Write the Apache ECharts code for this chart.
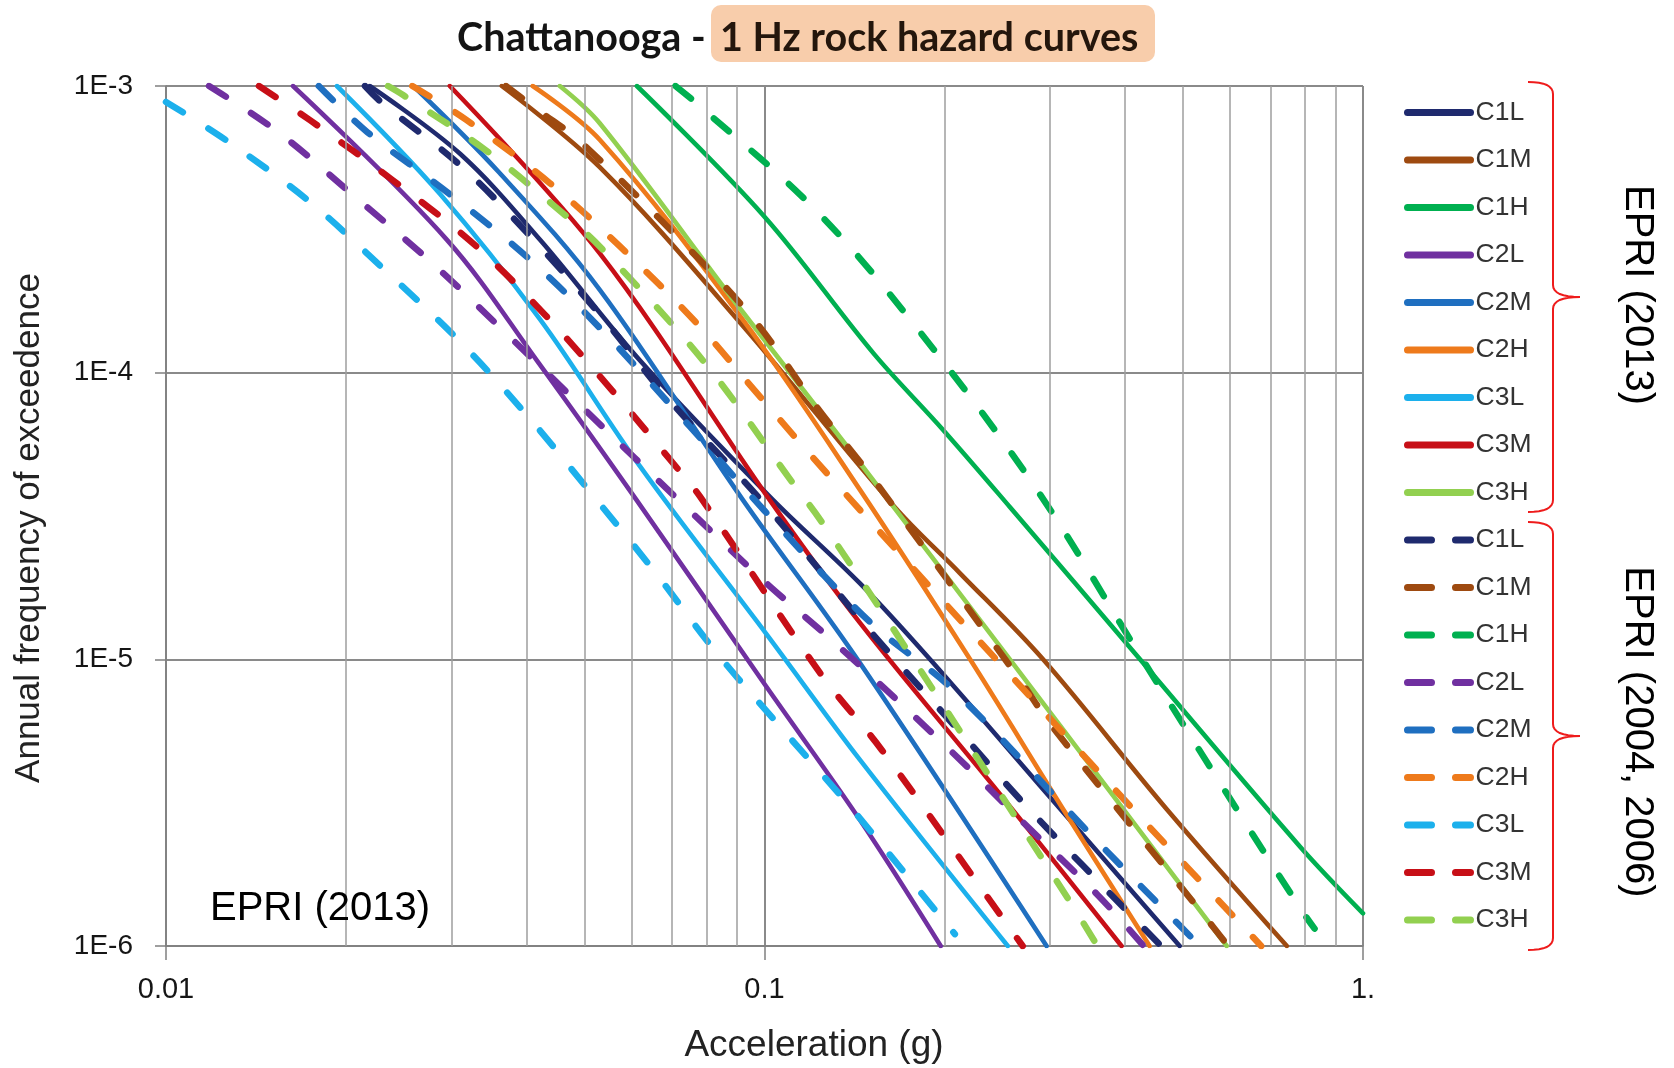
<!DOCTYPE html>
<html>
<head>
<meta charset="utf-8">
<script src="https://cdn.jsdelivr.net/npm/echarts@6/dist/echarts.min.js"></script>
<style>html,body{margin:0;padding:0;background:#fff}#chart{width:1674px;height:1068px}</style>
</head>
<body>
<div id="chart"></div>
<script>
// ---------- DATA ----------
const categories = ['C1L','C1M','C1H','C2L','C2M','C2H','C3L','C3M','C3H'];
const groupNames = ['EPRI (2013)', 'EPRI (2004, 2006)'];
const titleParts = ['Chattanooga - ', '1 Hz rock hazard curves'];
const axisTitles = ['Acceleration (g)', 'Annual frequency of exceedence'];

// EPRI (2013) – solid curves: [acceleration g, annual frequency of exceedance]
const epri2013_C1L = [[0.0219,1e-3],[0.031,5.8e-4],[0.0422,2.9e-4],[0.062,1.1e-4],[0.1033,3.6e-5],[0.1444,1.84e-5],[0.189,1e-5],[0.3,3.3e-6],[0.494,1e-6]];
const epri2013_C1M = [[0.0364,1e-3],[0.0531,5.2e-4],[0.0922,1.45e-4],[0.165,3.4e-5],[0.212,2e-5],[0.292,1e-5],[0.47,3e-6],[0.746,1e-6]];
const epri2013_C1H = [[0.0612,1e-3],[0.1,3.5e-4],[0.152,1.17e-4],[0.199,6.3e-5],[0.257,3.4e-5],[0.424,1e-5],[0.785,2.22e-6],[1.0,1.3e-6]];
const epri2013_C2L = [[0.0163,1e-3],[0.0295,2.9e-4],[0.0417,1.1e-4],[0.0611,3.6e-5],[0.1,8.2e-6],[0.1444,2.75e-6],[0.197,1e-6]];
const epri2013_C2M = [[0.0259,1e-3],[0.036,5.0e-4],[0.0531,1.94e-4],[0.092,3.6e-5],[0.1444,9.7e-6],[0.296,1e-6]];
const epri2013_C2H = [[0.041,1e-3],[0.0531,6.48e-4],[0.092,1.53e-4],[0.1444,3.9e-5],[0.2205,1e-5],[0.314,3.05e-6],[0.44,1e-6]];
const epri2013_C3L = [[0.0193,1e-3],[0.0287,4.2e-4],[0.0422,1.53e-4],[0.062,4.7e-5],[0.1009,1.22e-5],[0.1444,4.46e-6],[0.255,1e-6]];
const epri2013_C3M = [[0.0298,1e-3],[0.0531,2.6e-4],[0.102,3.6e-5],[0.1444,1.34e-5],[0.25,3.3e-6],[0.395,1e-6]];
const epri2013_C3H = [[0.0455,1e-3],[0.0531,7.4e-4],[0.0886,1.8e-4],[0.1444,4.84e-5],[0.257,1e-5],[0.592,1e-6]];

// EPRI (2004, 2006) – dashed curves
const epri2004_C1L = [[0.0215,1e-3],[0.023,8.7e-4],[0.0313,5.2e-4],[0.0413,2.88e-4],[0.0537,1.55e-4],[0.0687,8.2e-5],[0.101,3.4e-5],[0.148,1.3e-5],[0.218,5.24e-6],[0.281,2.9e-6],[0.46,1e-6]];
const epri2004_C1M = [[0.037,1e-3],[0.0418,8.25e-4],[0.0492,6.4e-4],[0.0751,2.68e-4],[0.097,1.49e-4],[0.1222,7.6e-5],[0.154,4.1e-5],[0.267,8.5e-6],[0.303,5.8e-6],[0.561,1.17e-6],[0.595,1e-6]];
const epri2004_C1H = [[0.071,1e-3],[0.078,8.5e-4],[0.121,3.74e-4],[0.177,1.49e-4],[0.283,4.0e-5],[0.428,1.0e-5],[0.647,2.54e-6],[0.80,1.28e-6],[0.83,1.15e-6]];
const epri2004_C2L = [[0.0118,1e-3],[0.0154,6.9e-4],[0.021,4.0e-4],[0.0281,2.37e-4],[0.0373,1.35e-4],[0.0492,7.7e-5],[0.075,3.3e-5],[0.0994,1.89e-5],[0.1337,1.1e-5],[0.204,4.83e-6],[0.27,2.71e-6],[0.36,1.51e-6],[0.43,1e-6]];
const epri2004_C2M = [[0.018,1e-3],[0.0217,6.9e-4],[0.0296,4.24e-4],[0.0403,2.51e-4],[0.0531,1.43e-4],[0.075,6.5e-5],[0.1,3.3e-5],[0.15,1.35e-5],[0.207,7.8e-6],[0.354,2.4e-6],[0.534,1e-6]];
const epri2004_C2H = [[0.0258,1e-3],[0.0318,7.6e-4],[0.0438,4.58e-4],[0.0574,2.75e-4],[0.077,1.49e-4],[0.0995,8.0e-5],[0.1286,4.34e-5],[0.247,9.7e-6],[0.419,2.9e-6],[0.623,1.2e-6],[0.676,1e-6]];
const epri2004_C3L = [[0.01,8.8e-4],[0.0127,6.4e-4],[0.0174,3.94e-4],[0.0232,2.28e-4],[0.0308,1.3e-4],[0.0401,7.1e-5],[0.0511,3.84e-5],[0.0652,2.05e-5],[0.0833,1.05e-5],[0.1074,5.67e-6],[0.1374,3.15e-6],[0.177,1.66e-6],[0.208,1.1e-6]];
const epri2004_C3M = [[0.0143,1e-3],[0.0174,7.6e-4],[0.0239,4.7e-4],[0.0328,2.79e-4],[0.043,1.59e-4],[0.0558,8.6e-5],[0.0703,4.84e-5],[0.078,3.7e-5],[0.1238,8.97e-6],[0.157,4.83e-6],[0.25,1.25e-6],[0.27,1e-6]];
const epri2004_C3H = [[0.0235,1e-3],[0.0249,9.3e-4],[0.0341,6.0e-4],[0.0464,3.55e-4],[0.0531,2.75e-4],[0.079,1.1e-4],[0.1117,4.1e-5],[0.124,3.06e-5],[0.173,1.08e-5],[0.328,1.37e-6],[0.36,1e-6]];

// Axis ticks
const xTickValues = [0.01, 0.1, 1];
const xTickLabels = ['0.01', '0.1', '1.'];
const yTickValues = [1e-6, 1e-5, 1e-4, 1e-3];
const yTickLabels = ['1E-6', '1E-5', '1E-4', '1E-3'];
const xMinorTicks = [0.02,0.03,0.04,0.05,0.06,0.07,0.08,0.09,0.2,0.3,0.4,0.5,0.6,0.7,0.8,0.9];
const yMinorTicks = [2e-6,3e-6,4e-6,5e-6,6e-6,7e-6,8e-6,9e-6,2e-5,3e-5,4e-5,5e-5,6e-5,7e-5,8e-5,9e-5,2e-4,3e-4,4e-4,5e-4,6e-4,7e-4,8e-4,9e-4];

// ---------- STYLE ----------
const colors = ['#1f2a6e','#9e4a10','#00b050','#7030a0','#1f6fc0','#ee7a1b','#1cb0ec','#c70f17','#92d050'];
const solidSets = [epri2013_C1L,epri2013_C1M,epri2013_C1H,epri2013_C2L,epri2013_C2M,epri2013_C2H,epri2013_C3L,epri2013_C3M,epri2013_C3H];
const dashSets  = [epri2004_C1L,epri2004_C1M,epri2004_C1H,epri2004_C2L,epri2004_C2M,epri2004_C2H,epri2004_C3L,epri2004_C3M,epri2004_C3H];

function nearestLabel(v, vals, labels){
  const lv = Math.log10(v);
  let best = 0, bd = Infinity;
  vals.forEach((t,i)=>{const d=Math.abs(Math.log10(t)-lv); if(d<bd){bd=d;best=i;}});
  return bd < 0.01 ? labels[best] : '';
}

const series = [];
series.push({
  type:'line', name:'__grid', data:[], z:1, silent:true, symbol:'none',
  markLine:{
    silent:true, symbol:['none','none'], label:{show:false}, animation:false,
    lineStyle:{color:'#9e9e9e', width:1.5, type:'solid'},
    emphasis:{disabled:true},
    data: xMinorTicks.map(v=>({xAxis:v})).concat(yMinorTicks.map(v=>({yAxis:v})))
  }
});
categories.forEach((c,i)=>{
  series.push({
    type:'line', name:c, data: solidSets[i], symbol:'none', smooth:0.35,
    clip:true, z:3, color: colors[i],
    lineStyle:{color:colors[i], width:4.6, cap:'round', join:'round'},
    emphasis:{disabled:true}
  });
});
categories.forEach((c,i)=>{
  series.push({
    type:'line', name:c + ' ' + groupNames[1], data: dashSets[i], symbol:'none', smooth:0.35,
    clip:true, z:4, color: colors[i],
    lineStyle:{color:colors[i], width:6.5, type:[20,30], cap:'round', join:'round'},
    emphasis:{disabled:true}
  });
});

const legendData = categories.map(c=>({name:c}))
  .concat(categories.map(c=>({name:c + ' ' + groupNames[1], lineStyle:{type:[24,24]}})));

const FONT = 'Liberation Sans, Arial, sans-serif';

// curly brace as a polyline (quadratic corners sampled)
function bracePoints(x0, xv, xt, yTop, yTip, yBot){
  const pts = [];
  function quad(p0, c, p1){
    for (let k=0;k<=8;k++){const t=k/8;
      pts.push([(1-t)*(1-t)*p0[0]+2*(1-t)*t*c[0]+t*t*p1[0], (1-t)*(1-t)*p0[1]+2*(1-t)*t*c[1]+t*t*p1[1]]);}
  }
  quad([x0,yTop],[xv,yTop],[xv,yTop+12]);
  quad([xv,yTip-12],[xv,yTip],[xt,yTip]);
  quad([xt,yTip],[xv,yTip],[xv,yTip+12]);
  quad([xv,yBot-12],[xv,yBot],[x0,yBot]);
  return pts;
}

const centered = {align:'center', verticalAlign:'middle', textAlign:'center', textVerticalAlign:'middle'};

const option = {
  animation:false,
  backgroundColor:'#ffffff',
  grid:{left:166, top:86, width:1197, height:860, containLabel:false},
  legend:{
    orient:'vertical', left:1404, top:99, padding:0, itemWidth:63, itemHeight:14, itemGap:20.5,
    data: legendData,
    formatter: n => n.split(' ')[0],
    textStyle:{fontFamily:FONT, fontSize:26.5, color:'#333'},
    lineStyle:{width:7, cap:'round'},
    itemStyle:{color:'rgba(0,0,0,0)', borderWidth:0},
    selectedMode:false
  },
  xAxis:{
    type:'log', logBase:10, min:0.01, max:1,
    axisLine:{show:true, onZero:false, lineStyle:{color:'#808080', width:1.5}},
    axisTick:{show:true, length:14, lineStyle:{color:'#808080', width:1.5}},
    axisLabel:{margin:29, fontFamily:FONT, fontSize:29, color:'#151515',
      formatter: v => nearestLabel(v, xTickValues, xTickLabels)},
    splitLine:{show:true, lineStyle:{color:'#8a8a8a', width:2}}
  },
  yAxis:{
    type:'log', logBase:10, min:1e-6, max:1e-3,
    axisLine:{show:true, onZero:false, lineStyle:{color:'#808080', width:1.5}},
    axisTick:{show:true, length:11, lineStyle:{color:'#808080', width:1.5}},
    axisLabel:{margin:33, fontFamily:FONT, fontSize:28, color:'#151515',
      formatter: v => nearestLabel(v, yTickValues, yTickLabels)},
    splitLine:{show:true, lineStyle:{color:'#8a8a8a', width:2}}
  },
  graphic:[
    {type:'rect', z:9, shape:{x:711, y:5, width:444, height:57, r:10}, style:{fill:'#f8cdab'}},
    {type:'text', x:457, y:38, z:10,
     style:Object.assign({text:titleParts[0], font:'bold 39.5px Lato', fill:'#141414'},
            {align:'left', verticalAlign:'middle', textAlign:'left', textVerticalAlign:'middle'})},
    {type:'text', x:720, y:38, z:10,
     style:Object.assign({text:titleParts[1], font:'bold 39.5px Lato', fill:'#24160c'},
            {align:'left', verticalAlign:'middle', textAlign:'left', textVerticalAlign:'middle'})},
    {type:'text', x:29, y:528, rotation:Math.PI/2, z:10,
     style:Object.assign({text:axisTitles[1], font:'35px '+FONT, fill:'#222'}, centered)},
    {type:'text', x:814, y:1046, z:10,
     style:Object.assign({text:axisTitles[0], font:'37px '+FONT, fill:'#222'}, centered)},
    {type:'text', x:210, y:909, z:10,
     style:Object.assign({text:groupNames[0], font:'40px '+FONT, fill:'#000'},
            {align:'left', verticalAlign:'middle', textAlign:'left', textVerticalAlign:'middle'})},
    {type:'text', x:1637, y:295, rotation:-Math.PI/2, z:10,
     style:Object.assign({text:groupNames[0], font:'40px '+FONT, fill:'#000'}, centered)},
    {type:'text', x:1637, y:732, rotation:-Math.PI/2, z:10,
     style:Object.assign({text:groupNames[1], font:'40px '+FONT, fill:'#000'}, centered)},
    {type:'polyline', z:10, shape:{points:bracePoints(1528,1553,1580,82,297,512)}, style:{fill:null, stroke:'#ee1c1c', lineWidth:2}},
    {type:'polyline', z:10, shape:{points:bracePoints(1528,1553,1580,522,736,950)}, style:{fill:null, stroke:'#ee1c1c', lineWidth:2}}
  ],
  series: series
};

const chart = echarts.init(document.getElementById('chart'), null, {renderer:'canvas'});
chart.setOption(option);
</script>
</body>
</html>
